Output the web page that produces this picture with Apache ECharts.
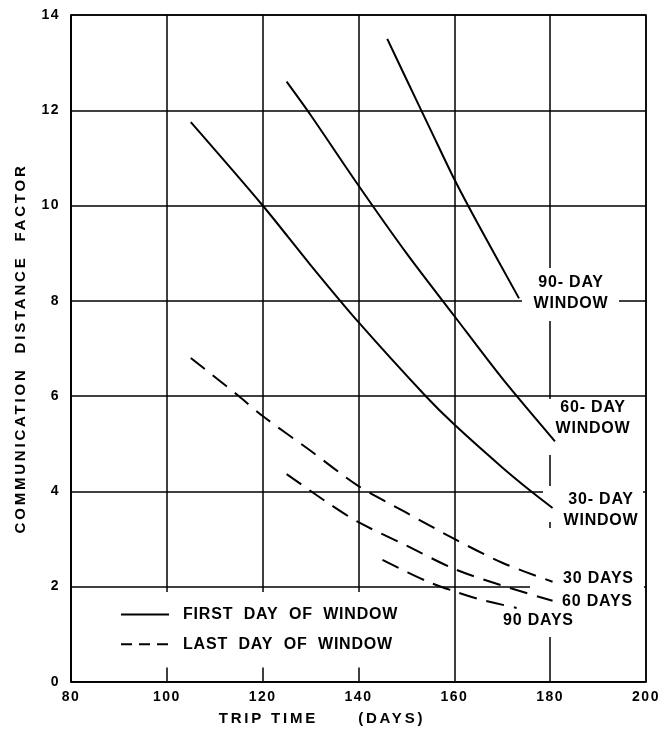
<!DOCTYPE html>
<html>
<head>
<meta charset="utf-8">
<script src="https://cdn.jsdelivr.net/npm/echarts@6/dist/echarts.min.js"></script>
<style>
  html, body { margin: 0; padding: 0; background: #fff; }
  #chart { width: 665px; height: 733px; }
</style>
</head>
<body>
<div id="chart"></div>
<script>
// Lettering is widely tracked; spacing depends on the text size used below.
const TRACKING = { 14: 1.5, 15: 2.8, 16: 0.8 };
(function () {
  const proto = CanvasRenderingContext2D.prototype;
  if (!('letterSpacing' in proto)) return;
  const track = function (ctx) {
    const m = /(\d+(?:\.\d+)?)px/.exec(ctx.font);
    const s = m ? (TRACKING[Math.round(+m[1])] || 0) : 0;
    ctx.letterSpacing = s + 'px';
  };
  ['fillText', 'strokeText', 'measureText'].forEach(function (fn) {
    const orig = proto[fn];
    proto[fn] = function () { track(this); return orig.apply(this, arguments); };
  });
})();

// Trip time (days) vs communication distance factor
const xTicks = [80, 100, 120, 140, 160, 180, 200];
const yTicks = [0, 2, 4, 6, 8, 10, 12, 14];

// First day of launch window
const firstDay30 = [[105, 11.75], [120, 10.0], [130, 8.75], [140, 7.55], [154, 6.0], [160, 5.4], [170, 4.5], [176, 4.0], [180.5, 3.65]];
const firstDay60 = [[125, 12.6], [130, 11.9], [140, 10.42], [150, 9.0], [160, 7.68], [170, 6.37], [181, 5.05]];
const firstDay90 = [[146, 13.5], [150, 12.65], [155, 11.6], [160, 10.55], [165, 9.6], [173.5, 8.05]];

// Last day of launch window
const lastDay30 = [[105, 6.8], [115, 6.0], [120, 5.58], [130, 4.85], [140, 4.11], [150, 3.55], [160, 3.0], [170, 2.5], [180.5, 2.1]];
const lastDay60 = [[125, 4.36], [134, 3.73], [140, 3.35], [150, 2.86], [160, 2.37], [170, 2.02], [180.5, 1.7]];
const lastDay90 = [[145, 2.56], [150, 2.31], [155, 2.08], [160, 1.9], [165, 1.74], [173, 1.55]];

const FIRST = 'FIRST DAY OF WINDOW';
const LAST = 'LAST DAY OF WINDOW';

const FONT = "'Liberation Sans', Arial, sans-serif";
const DASH = [18, 10];

function curve(name, data, dashed) {
  return {
    name: name,
    type: 'line',
    data: data,
    smooth: 0.3,
    symbol: 'none',
    z: 3,
    lineStyle: { color: '#000', width: 2, type: dashed ? DASH : 'solid' },
    itemStyle: { color: '#000' },
    emphasis: { disabled: true }
  };
}

// White patches behind the curve labels
function patch(x, y, w, h) {
  return { type: 'rect', z: 1, silent: true, shape: { x: x, y: y, width: w, height: h }, style: { fill: '#fff' } };
}
function label(text, x, y, align) {
  return {
    type: 'text', z: 4, silent: true, x: x, y: y,
    style: { text: text, font: 'bold 16px ' + FONT, fill: '#000', align: align || 'center', verticalAlign: 'middle', lineHeight: 21 }
  };
}

const option = {
  animation: false,
  backgroundColor: '#fff',
  grid: { left: 71, right: 19, top: 15, bottom: 50, show: true, borderColor: '#000', borderWidth: 1.5 },
  xAxis: {
    type: 'value', min: xTicks[0], max: xTicks[xTicks.length - 1], interval: 20,
    axisLine: { show: true, lineStyle: { color: '#000', width: 1.5 } },
    axisTick: { show: false },
    splitLine: { show: true, lineStyle: { color: '#000', width: 1.5 } },
    axisLabel: { color: '#000', fontFamily: FONT, fontWeight: 'bold', fontSize: 14, margin: 8 },
    name: '{t|TRIP TIME}{g|}{t|(DAYS)}',
    nameLocation: 'middle',
    nameGap: 28,
    nameTextStyle: {
      padding: [0, 73, 0, 0],
      rich: {
        t: { color: '#000', fontFamily: FONT, fontWeight: 'bold', fontSize: 15 },
        g: { width: 40 }
      }
    }
  },
  yAxis: {
    type: 'value', min: yTicks[0], max: yTicks[yTicks.length - 1], interval: 2,
    axisLine: { show: true, lineStyle: { color: '#000', width: 1.5 } },
    axisTick: { show: false },
    splitLine: { show: true, lineStyle: { color: '#000', width: 1.5 } },
    axisLabel: { color: '#000', fontFamily: FONT, fontWeight: 'bold', fontSize: 14, margin: 11 },
    name: 'COMMUNICATION  DISTANCE  FACTOR',
    nameLocation: 'middle',
    nameGap: 41,
    nameTextStyle: { color: '#000', fontFamily: FONT, fontWeight: 'bold', fontSize: 15 }
  },
  legend: {
    orient: 'vertical',
    left: 110, top: 592,
    padding: [14, 20, 15, 10],
    backgroundColor: '#fff',
    itemWidth: 48, itemHeight: 14, itemGap: 13,
    selectedMode: false,
    itemStyle: { opacity: 0 },
    data: [
      { name: FIRST, lineStyle: { color: '#000', width: 2, type: 'solid' } },
      { name: LAST, lineStyle: { color: '#000', width: 2, type: [11, 7] } }
    ],
    formatter: function (name) { return name.split(' ').join('  '); },
    textStyle: { color: '#000', fontFamily: FONT, fontWeight: 'bold', fontSize: 16, padding: [0, 0, 0, 9] }
  },
  series: [
    curve(FIRST, firstDay30, false),
    curve(FIRST, firstDay60, false),
    curve(FIRST, firstDay90, false),
    curve(LAST, lastDay30, true),
    curve(LAST, lastDay60, true),
    curve(LAST, lastDay90, true)
  ],
  graphic: [
    patch(522, 268, 97, 53),
    patch(547, 399, 93, 56),
    patch(543, 486, 100, 36),
    patch(530, 528, 114, 109),
    label('90- DAY\nWINDOW', 571, 293),
    label('60- DAY\nWINDOW', 593, 418),
    label('30- DAY\nWINDOW', 601, 510),
    label('30 DAYS', 563, 579, 'left'),
    label('60 DAYS', 562, 602, 'left'),
    label('90 DAYS', 503, 621, 'left')
  ]
};

const chart = echarts.init(document.getElementById('chart'), null, { renderer: 'canvas' });
chart.setOption(option);
</script>
</body>
</html>
